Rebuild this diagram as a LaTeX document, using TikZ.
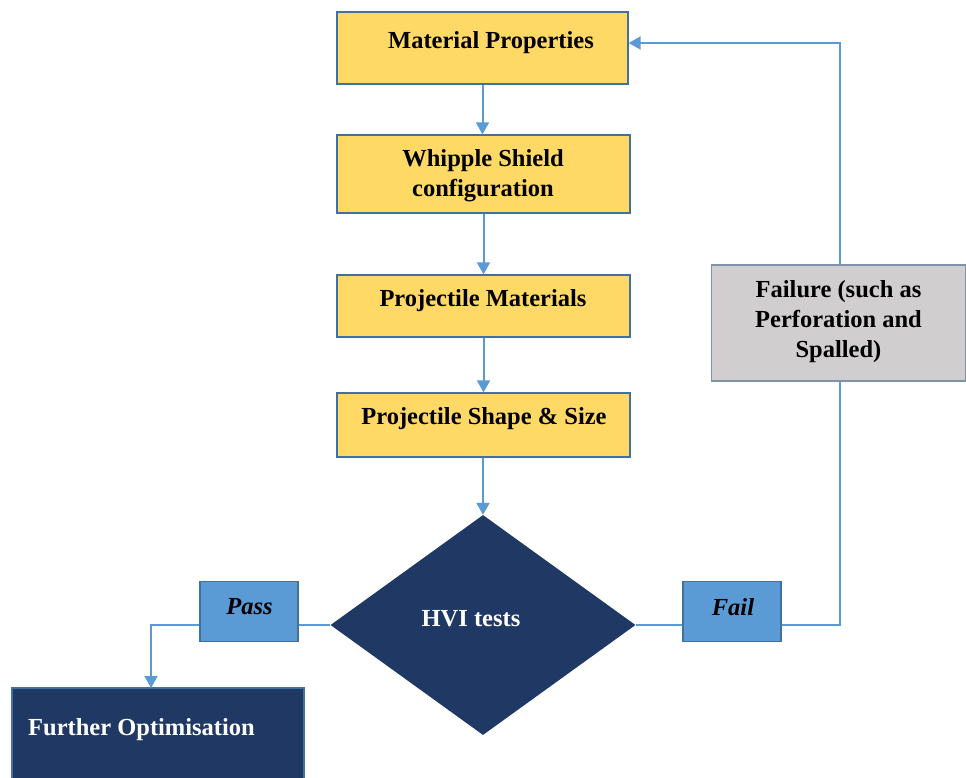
\documentclass[tikz,border=0pt]{standalone}
\usepackage{fontspec}
\setmainfont{Liberation Serif}
\usetikzlibrary{arrows.meta,shapes.geometric}
\definecolor{yel}{HTML}{FFD966}
\definecolor{bord}{HTML}{41719C}
\definecolor{navy}{HTML}{1F3864}
\definecolor{lblue}{HTML}{5B9BD5}
\definecolor{lgray}{HTML}{D0CECE}
\definecolor{gbord}{HTML}{7F92A8}
\definecolor{linec}{HTML}{5B9BD5}
\begin{document}
\begin{tikzpicture}[x=1pt,y=-1pt,
  box/.style={rectangle, draw=bord, line width=1.3pt, inner sep=0pt},
  ybox/.style={box, fill=yel},
  txt/.style={font=\fontsize{24.5}{30}\selectfont\bfseries, align=center, text=black, inner sep=0pt},
  itxt/.style={font=\fontsize{24.5}{30}\selectfont\bfseries\itshape, text=black, inner sep=0pt},
  wire/.style={draw=linec, line width=2pt},
  conn/.style={wire, -{Triangle[width=13pt,length=12pt]}}]
\useasboundingbox (0,0) rectangle (966,778);
\clip (0,0) rectangle (966,778);
% boxes
\node[ybox, minimum width=291pt, minimum height=72pt] (mp) at (482.5,48) {};
\node[txt] (mpt) at (491,42.5) {Material Properties};
\node[ybox, minimum width=293pt, minimum height=78pt] (ws) at (483.5,174) {};
\node[txt] (wst) at (483,176) {Whipple Shield\\configuration};
\node[ybox, minimum width=293pt, minimum height=62pt] (pm) at (483.5,306) {};
\node[txt] (pmt) at (483,300.5) {Projectile Materials};
\node[ybox, minimum width=293pt, minimum height=64pt] (ps) at (483.5,425) {};
\node[txt] (pst) at (484,418.5) {Projectile Shape \& Size};
\node[diamond, fill=navy, minimum width=305pt, minimum height=220pt, inner sep=0pt] (hvi) at (483,625) {};
\node[txt, text=white] (hvit) at (471,619) {HVI tests};
\node[box, fill=lblue, minimum width=98pt, minimum height=60pt] (pass) at (249,611.5) {};
\node[itxt] (passt) at (249.5,607) {Pass};
\node[box, fill=lblue, minimum width=98pt, minimum height=60pt] (fail) at (732,611.5) {};
\node[itxt] (failt) at (733,607) {Fail};
\node[box, fill=navy, minimum width=292pt, minimum height=110pt] (fo) at (158,743) {};
\node[txt, text=white, anchor=west] (fot) at (28,730) {Further Optimisation};
% connectors
\draw[conn] (mp.south) -- (mp.south |- ws.north);
\draw[conn] (ws.south) -- (ws.south |- pm.north);
\draw[conn] (pm.south) -- (pm.south |- ps.north);
\draw[conn] (ps.south -| hvi.north) -- (hvi.north);
\draw[wire] (hvi.west) -- (hvi.west -| pass.east);
\coordinate (foin) at (151,688);
\draw[conn] (hvi.west -| pass.west) -| (foin);
\draw[wire] (hvi.east) -- (hvi.east -| fail.west);
\coordinate (fr) at (840,43);
\draw[conn] (hvi.east -| fail.east) -| (fr) -- ([yshift=5pt]mp.east);
% failure box over the loop line
\node[rectangle, draw=gbord, line width=1.3pt, fill=lgray, inner sep=0pt, minimum width=254pt, minimum height=116pt] (fb) at (838.5,323) {};
\node[txt] (fbt) at (838.5,322) {Failure (such as\\Perforation and\\Spalled)};
\end{tikzpicture}
\end{document}
